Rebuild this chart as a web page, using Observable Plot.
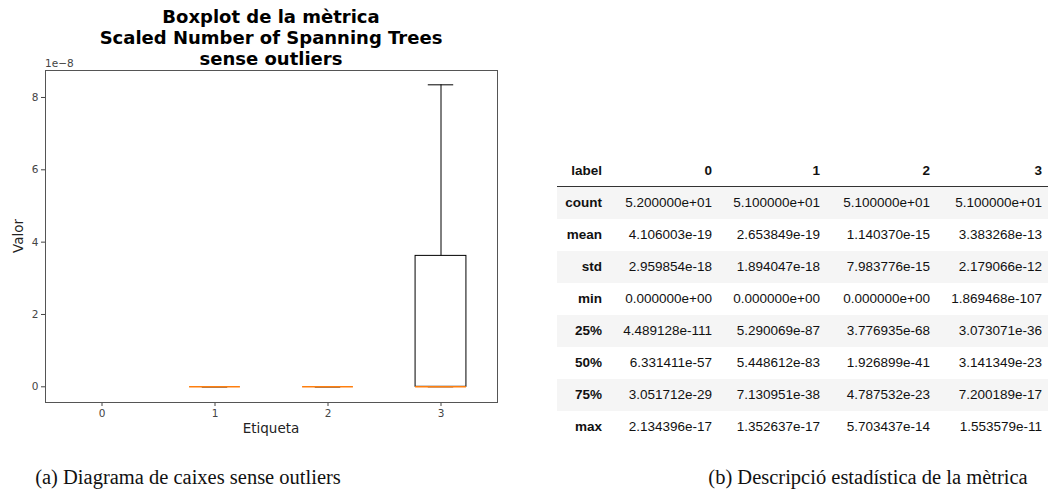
<!DOCTYPE html>
<html>
<head>
<meta charset="utf-8">
<script src="https://cdn.jsdelivr.net/npm/d3@7"></script>
<script src="https://cdn.jsdelivr.net/npm/@observablehq/plot@0.6"></script>
<style>
  html, body { margin: 0; padding: 0; background: #fff; }
  #root { position: relative; width: 1050px; height: 493px; overflow: hidden; background: #fff; }
  #chart { position: absolute; left: 0; top: 0; }
  .title { position: absolute; left: 71px; width: 400px; top: 6px; text-align: center;
           font-family: "DejaVu Sans", sans-serif; font-weight: bold; font-size: 18px; line-height: 21px; color: #000; }
  .exp { position: absolute; left: 45px; top: 57px; font-family: "DejaVu Sans", sans-serif; font-size: 10.5px; color: #444; }
  .xlabel { position: absolute; left: 171px; width: 200px; top: 420px; text-align: center;
            font-family: "DejaVu Sans", sans-serif; font-size: 13.5px; color: #222; }
  .ylabel { position: absolute; left: 18px; top: 236px; transform: translate(-50%, -50%) rotate(-90deg);
            font-family: "DejaVu Sans", sans-serif; font-size: 13.5px; color: #222; white-space: nowrap; }
  table.desc { position: absolute; left: 557px; top: 155px; border-collapse: collapse; table-layout: fixed;
               font-family: "Liberation Sans", Arial, sans-serif; font-size: 13.5px; color: #111; }
  table.desc th, table.desc td { text-align: right; padding: 0 6px 0 0; white-space: nowrap; }
  table.desc thead th { height: 31px; border-bottom: 1px solid #333; font-weight: bold; }
  table.desc tbody th { font-weight: bold; }
  table.desc tbody tr { height: 32px; }
  table.desc tbody tr:nth-child(odd) { background: #f5f5f5; }
  .cap { position: absolute; top: 466px; transform: translateX(-50%); font-family: "Liberation Serif", serif; font-size: 20.5px; color: #111; white-space: nowrap; }
</style>
</head>
<body>
<div id="root">
  <div id="chart"></div>
  <div class="title">Boxplot de la mètrica<br>Scaled Number of Spanning Trees<br>sense outliers</div>
  <div class="exp">1e−8</div>
  <div class="xlabel">Etiqueta</div>
  <div class="ylabel">Valor</div>
  <table class="desc" id="desc"></table>
  <div class="cap" style="left:188px">(a) Diagrama de caixes sense outliers</div>
  <div class="cap" style="left:868px">(b) Descripció estadística de la mètrica</div>
</div>
<script>
const etiquetes = [0, 1, 2, 3];
const whiskerLow = [NaN, 0, 0, 0];
const q1 = [NaN, 0, 0, 0];
const median = [NaN, 0, 0, 0];
const q3 = [NaN, 0, 0, 3.62e-8];
const whiskerHigh = [NaN, 0, 0, 8.35e-8];
const yTicks = [0, 2e-8, 4e-8, 6e-8, 8e-8];

// ---- Table data ----
const tableColumns = ["0", "1", "2", "3"];
const statNames = ["count", "mean", "std", "min", "25%", "50%", "75%", "max"];
const col0 = ["5.200000e+01", "4.106003e-19", "2.959854e-18", "0.000000e+00", "4.489128e-111", "6.331411e-57", "3.051712e-29", "2.134396e-17"];
const col1 = ["5.100000e+01", "2.653849e-19", "1.894047e-18", "0.000000e+00", "5.290069e-87", "5.448612e-83", "7.130951e-38", "1.352637e-17"];
const col2 = ["5.100000e+01", "1.140370e-15", "7.983776e-15", "0.000000e+00", "3.776935e-68", "1.926899e-41", "4.787532e-23", "5.703437e-14"];
const col3 = ["5.100000e+01", "3.383268e-13", "2.179066e-12", "1.869468e-107", "3.073071e-36", "3.141349e-23", "7.200189e-17", "1.553579e-11"];

const boxes = etiquetes.map((e, i) => ({
  e, lo: whiskerLow[i], q1: q1[i], med: median[i], q3: q3[i], hi: whiskerHigh[i]
})).filter(d => !isNaN(d.med));

const halfBox = 0.225, halfCap = 0.1125;

const chart = Plot.plot({
  width: 510,
  height: 440,
  marginLeft: 45,
  marginRight: 13,
  marginTop: 70,
  marginBottom: 38,
  style: { fontFamily: "DejaVu Sans, sans-serif", fontSize: "10.5px", color: "#444", background: "transparent" },
  x: { type: "linear", domain: [-0.5, 3.5] },
  y: { domain: [-0.434e-8, 8.746e-8] },
  marks: [
    Plot.axisX({ ticks: etiquetes, tickFormat: d => String(d), tickSize: 4, tickPadding: 3, label: null }),
    Plot.axisY({ ticks: yTicks, tickFormat: d => String(Math.round(d * 1e8)), tickSize: 4, tickPadding: 3, label: null }),
    // whiskers
    Plot.ruleX(boxes, { x: "e", y1: "q3", y2: "hi", stroke: "#000", strokeWidth: 1 }),
    Plot.ruleX(boxes, { x: "e", y1: "lo", y2: "q1", stroke: "#000", strokeWidth: 1 }),
    // caps
    Plot.ruleY(boxes, { y: "hi", x1: d => d.e - halfCap, x2: d => d.e + halfCap, stroke: "#000", strokeWidth: 1 }),
    Plot.ruleY(boxes, { y: "lo", x1: d => d.e - halfCap, x2: d => d.e + halfCap, stroke: "#000", strokeWidth: 1 }),
    // boxes
    Plot.rect(boxes, { x1: d => d.e - halfBox, x2: d => d.e + halfBox, y1: "q1", y2: "q3", fill: "none", stroke: "#000", strokeWidth: 1 }),
    // medians
    Plot.ruleY(boxes, { y: "med", x1: d => d.e - halfBox, x2: d => d.e + halfBox, stroke: "#ff7f0e", strokeWidth: 1.6 }),
    Plot.frame({ stroke: "#555", strokeWidth: 1 })
  ]
});
document.getElementById("chart").appendChild(chart);

// ---- Build table ----
const cols = [col0, col1, col2, col3];
const widths = [51, 110, 108, 110, 112];
const table = document.getElementById("desc");
const cg = document.createElement("colgroup");
widths.forEach(w => { const c = document.createElement("col"); c.style.width = w + "px"; cg.appendChild(c); });
table.appendChild(cg);
const thead = document.createElement("thead");
const hr = document.createElement("tr");
["label", ...tableColumns].forEach(t => { const th = document.createElement("th"); th.textContent = t; hr.appendChild(th); });
thead.appendChild(hr);
table.appendChild(thead);
const tbody = document.createElement("tbody");
statNames.forEach((s, i) => {
  const tr = document.createElement("tr");
  const th = document.createElement("th"); th.textContent = s; tr.appendChild(th);
  cols.forEach(c => { const td = document.createElement("td"); td.textContent = c[i]; tr.appendChild(td); });
  tbody.appendChild(tr);
});
table.appendChild(tbody);
</script>
</body>
</html>
